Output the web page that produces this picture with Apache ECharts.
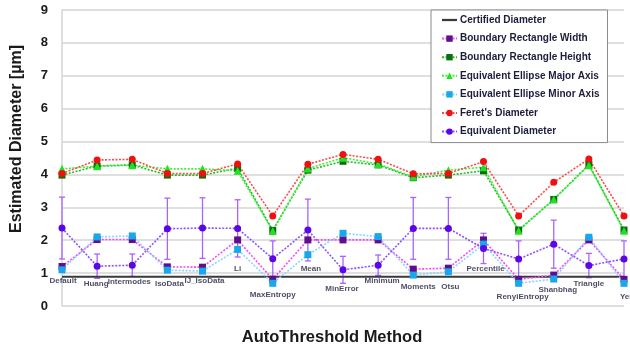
<!DOCTYPE html>
<html>
<head>
<meta charset="utf-8">
<script src="https://cdn.jsdelivr.net/npm/echarts@6/dist/echarts.min.js"></script>
<style>
  html, body { margin: 0; padding: 0; background: #fff; }
  #chart { width: 630px; height: 347px; }
</style>
</head>
<body>
<div id="chart"></div>
<script>
// AutoThreshold methods on the category axis
const categories = ['Default', 'Huang', 'Intermodes', 'IsoData', 'IJ_IsoData', 'Li', 'MaxEntropy', 'Mean',
  'MinError', 'Minimum', 'Moments', 'Otsu', 'Percentile', 'RenyiEntropy', 'Shanbhag', 'Triangle', 'Yen'];

// Estimated diameters in µm
const certified    = [0.89, 0.89, 0.89, 0.89, 0.89, 0.89, 0.89, 0.89, 0.89, 0.89, 0.89, 0.89, 0.89, 0.89, 0.89, 0.89, 0.89];
const rectWidth    = [1.20, 2.02, 2.02, 1.19, 1.18, 2.01, 0.81, 2.01, 2.01, 2.01, 1.12, 1.15, 2.01, 0.81, 0.94, 2.01, 0.81];
const rectHeight   = [3.98, 4.26, 4.29, 3.98, 3.98, 4.19, 2.30, 4.13, 4.40, 4.29, 3.90, 3.98, 4.11, 2.31, 3.24, 4.30, 2.31];
const ellipseMajor = [4.17, 4.25, 4.28, 4.17, 4.17, 4.11, 2.28, 4.18, 4.51, 4.32, 3.93, 4.13, 4.22, 2.29, 3.24, 4.28, 2.29];
const ellipseMinor = [1.10, 2.10, 2.13, 1.09, 1.06, 1.72, 0.69, 1.56, 2.21, 2.11, 0.94, 1.04, 1.88, 0.69, 0.82, 2.09, 0.69];
const feret        = [4.03, 4.44, 4.46, 4.03, 4.03, 4.32, 2.74, 4.31, 4.61, 4.46, 4.02, 4.03, 4.39, 2.74, 3.76, 4.47, 2.74];
const eqDiam       = [2.37, 1.21, 1.24, 2.35, 2.37, 2.36, 1.44, 2.31, 1.10, 1.24, 2.36, 2.36, 1.75, 1.43, 1.88, 1.23, 1.43];
const eqDiamErr    = [0.94, 0.37, 0.34, 0.93, 0.92, 0.87, 0.54, 0.94, 0.41, 0.31, 0.94, 0.94, 0.46, 0.55, 0.73, 0.37, 0.55];

const yTicks = [0, 1, 2, 3, 4, 5, 6, 7, 8, 9];

// Pixel nudges for the method names, which sit staggered around the certified line
const tagOffsets = [[1, 4], [-1, 7], [-3, 5], [2, 7], [2, 4], [0, -8], [0, 18], [3, -8], [-1, 12],
  [4, 4], [5, 10], [2, 10], [2, -8], [4, 20], [4, 13], [0, 7], [3, 20]];

const mainFont = 'Liberation Sans, Arial, sans-serif';
const dots = [2, 1.5];

function markerSeries(name, values, lineColor, markColor, symbol, size) {
  return {
    name: name,
    type: 'line',
    data: values,
    symbol: symbol,
    symbolSize: size || 7,
    lineStyle: { color: lineColor, width: 1.6, type: dots },
    itemStyle: { color: markColor },
    emphasis: { disabled: true },
    animation: false
  };
}

const chart = echarts.init(document.getElementById('chart'), null, { renderer: 'canvas' });

chart.setOption({
  animation: false,
  backgroundColor: '#ffffff',
  grid: { left: 62, right: 6, top: 10, bottom: 41 },
  xAxis: {
    type: 'category',
    data: categories,
    boundaryGap: false,
    axisLine: { show: false },
    axisTick: { show: false },
    axisLabel: { show: false },
    splitLine: { show: false }
  },
  yAxis: {
    type: 'value',
    min: yTicks[0],
    max: yTicks[yTicks.length - 1],
    interval: 1,
    axisLine: { show: true, lineStyle: { color: '#d4d4d4', width: 1.5 } },
    axisTick: { show: false },
    axisLabel: { color: '#1a1a1a', fontFamily: mainFont, fontWeight: 'bold', fontSize: 13, margin: 14 },
    splitLine: { lineStyle: { color: '#d4d4d4', width: 1.5 } }
  },
  legend: {
    orient: 'vertical',
    left: 431,
    top: 10,
    padding: [5, 8, 6, 10],
    backgroundColor: '#ffffff',
    borderColor: '#8a8a8a',
    borderWidth: 1,
    itemWidth: 15,
    itemHeight: 8,
    itemGap: 8.6,
    textStyle: { color: '#1c1c3c', fontFamily: mainFont, fontWeight: 'bold', fontSize: 10, padding: [0, 0, 0, -2] },
    data: [
      { name: 'Certified Diameter', icon: 'path://M0,0H20V3H0Z' },
      'Boundary Rectangle Width', 'Boundary Rectangle Height',
      'Equivalent Ellipse Major Axis', 'Equivalent Ellipse Minor Axis', "Feret's Diameter", 'Equivalent Diameter'
    ]
  },
  graphic: [
    {
      type: 'text', x: 332, y: 337,
      style: { text: 'AutoThreshold Method', fill: '#1a1a1a', font: 'bold 16.5px ' + mainFont, align: 'center', verticalAlign: 'middle' }
    },
    {
      type: 'text', x: 17, y: 139, rotation: Math.PI / 2,
      style: { text: 'Estimated Diameter [µm]', fill: '#1a1a1a', font: 'bold 16px ' + mainFont, align: 'center', verticalAlign: 'middle' }
    }
  ],
  series: [
    {
      name: 'Certified Diameter',
      type: 'line',
      data: certified,
      symbol: 'none',
      lineStyle: { color: '#3a3a3a', width: 2 },
      itemStyle: { color: '#3a3a3a' },
      emphasis: { disabled: true }
    },
    markerSeries('Boundary Rectangle Width', rectWidth, '#ff44ff', '#5e0f8c', 'rect'),
    markerSeries('Boundary Rectangle Height', rectHeight, '#22c022', '#0c6e0c', 'rect'),
    markerSeries('Equivalent Ellipse Major Axis', ellipseMajor, '#3df03d', '#24e024', 'triangle', 8),
    markerSeries('Equivalent Ellipse Minor Axis', ellipseMinor, '#86d6ff', '#18a6ec', 'rect'),
    markerSeries("Feret's Diameter", feret, '#ff4a4a', '#f01010', 'circle'),
    {
      // error bars for the equivalent diameter
      name: 'Equivalent Diameter SD',
      type: 'custom',
      data: eqDiam.map((v, i) => [i, v - eqDiamErr[i], v + eqDiamErr[i]]),
      renderItem: function (params, api) {
        const lo = api.coord([api.value(0), api.value(1)]);
        const hi = api.coord([api.value(0), api.value(2)]);
        const cap = 3;
        const style = { stroke: '#a864ff', lineWidth: 1.3 };
        return {
          type: 'group',
          children: [
            { type: 'line', shape: { x1: lo[0], y1: lo[1], x2: hi[0], y2: hi[1] }, style: style },
            { type: 'line', shape: { x1: lo[0] - cap, y1: lo[1], x2: lo[0] + cap, y2: lo[1] }, style: style },
            { type: 'line', shape: { x1: hi[0] - cap, y1: hi[1], x2: hi[0] + cap, y2: hi[1] }, style: style }
          ]
        };
      },
      encode: { x: 0, y: [1, 2] },
      z: 2,
      silent: true
    },
    markerSeries('Equivalent Diameter', eqDiam, '#8c52ff', '#5a06e8', 'circle'),
    {
      // method names placed along the certified line
      name: 'Method labels',
      type: 'scatter',
      data: certified.map((v, i) => ({ value: [i, v], label: { offset: tagOffsets[i] } })),
      symbolSize: 1,
      itemStyle: { color: 'rgba(0,0,0,0)' },
      label: {
        show: true,
        position: 'inside',
        formatter: p => categories[p.dataIndex],
        color: '#1c1c3c',
        fontFamily: mainFont,
        fontWeight: 'bold',
        fontSize: 8
      },
      z: 5,
      silent: true
    }
  ]
});
</script>
</body>
</html>
